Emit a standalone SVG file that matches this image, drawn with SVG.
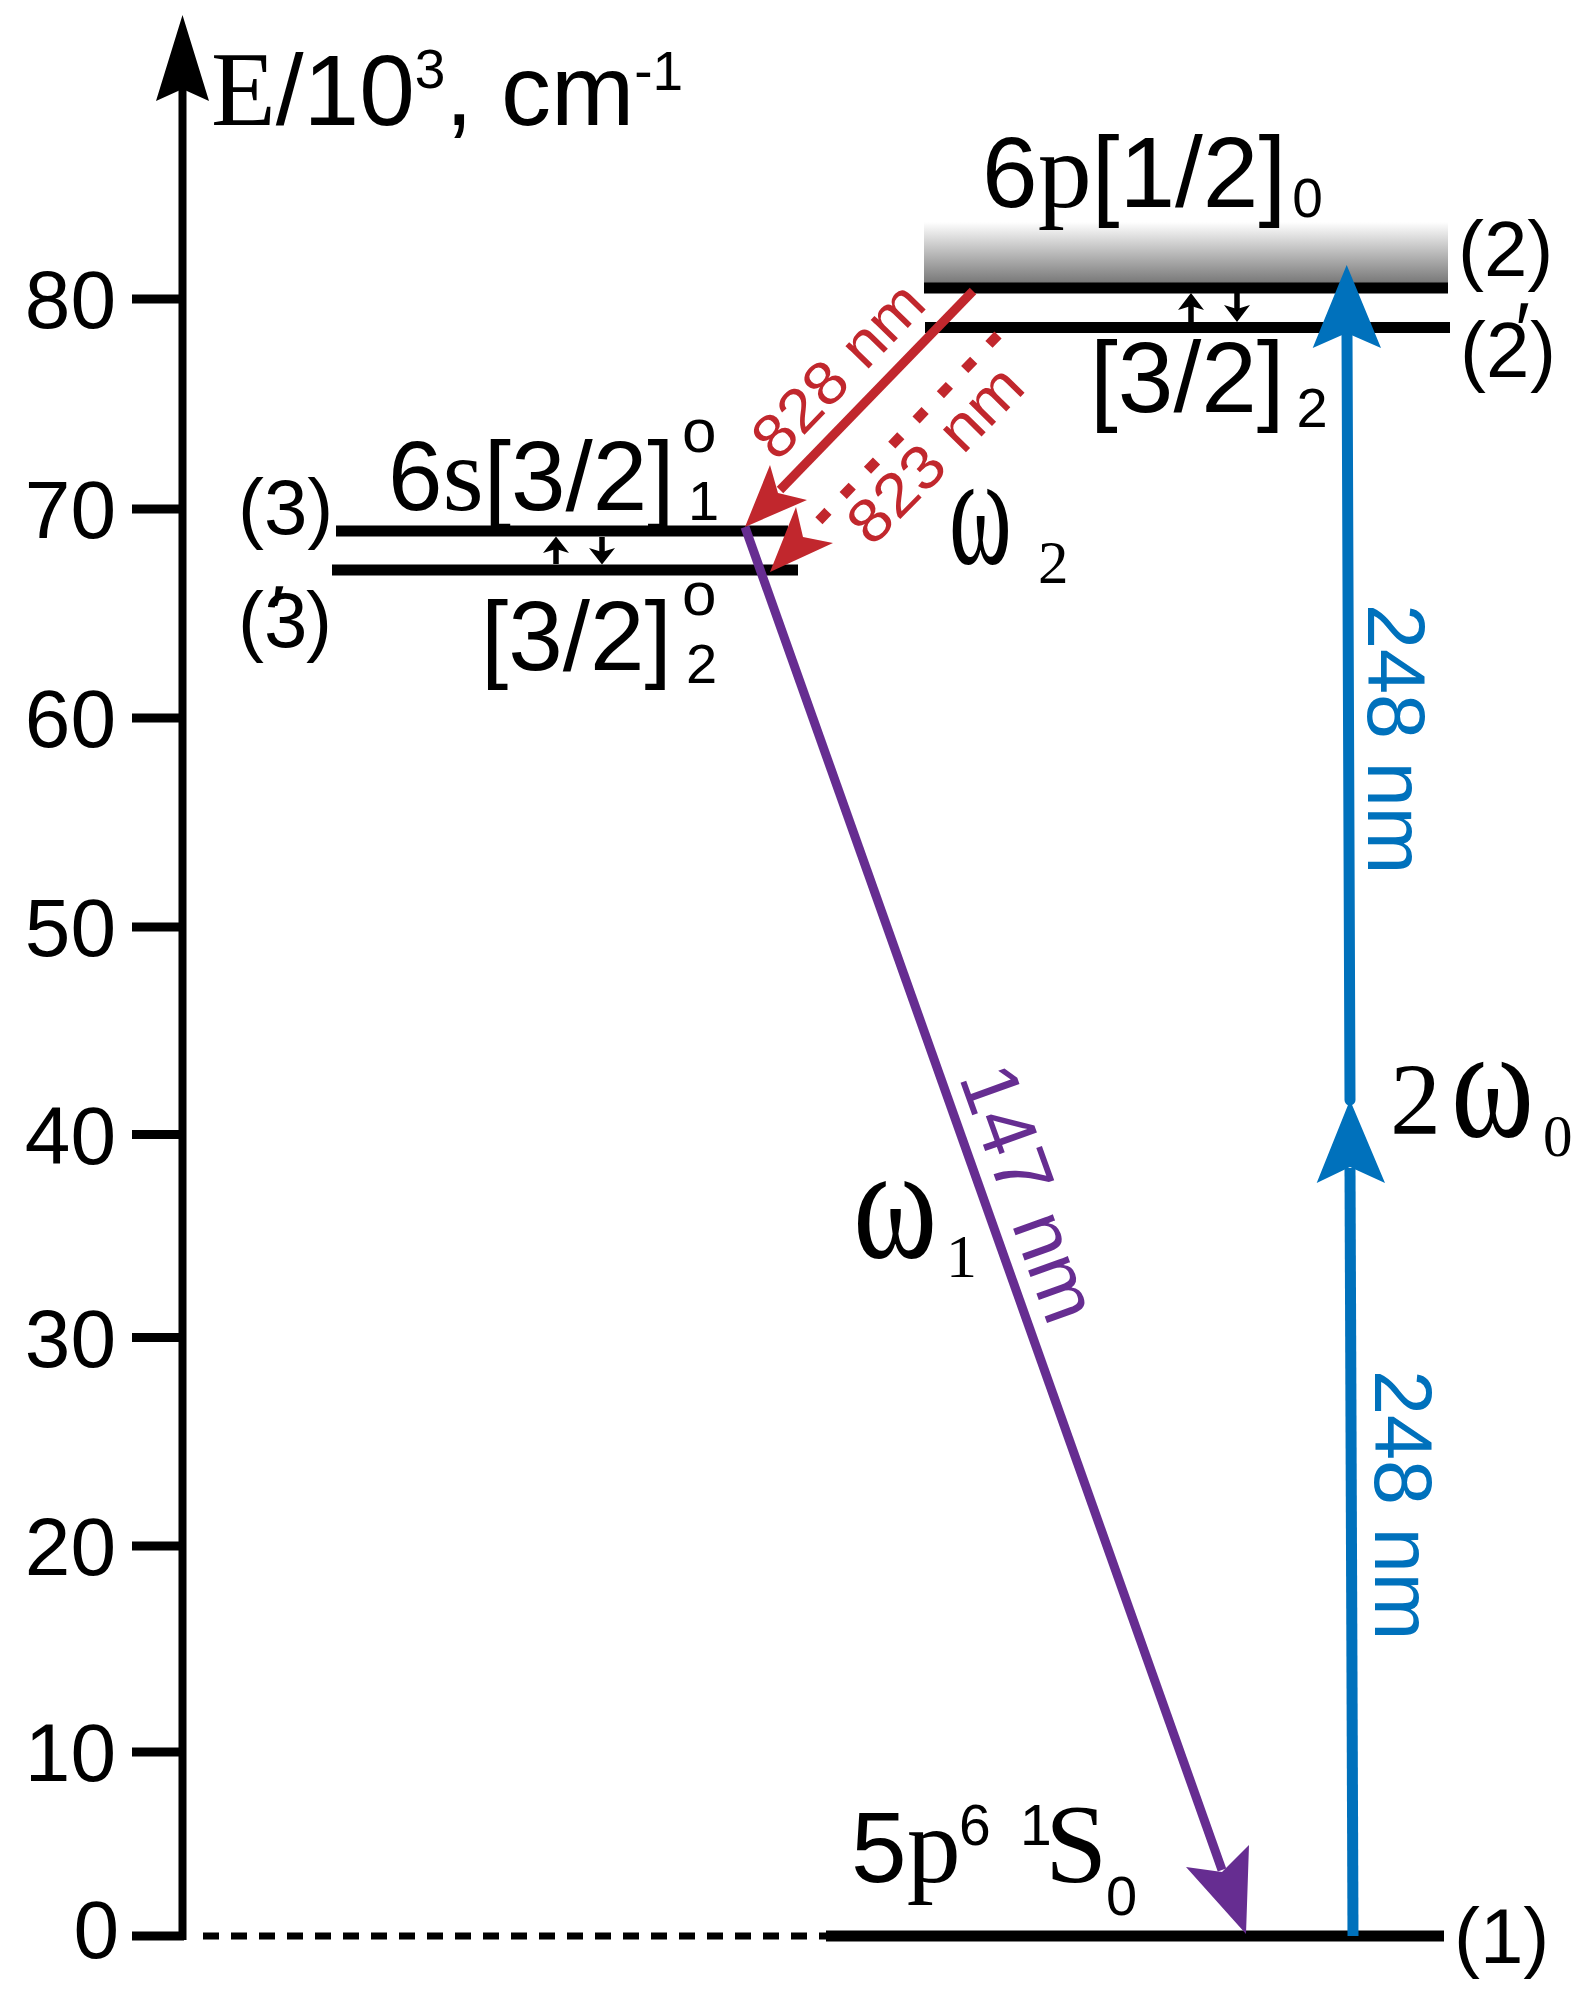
<svg xmlns="http://www.w3.org/2000/svg" width="1588" height="1991" viewBox="0 0 1588 1991">
<defs>
<style>
.sans{font-family:"Liberation Sans",Arial,sans-serif;fill:#000}
.serif{font-family:"Liberation Serif","Times New Roman",serif;fill:#000}
.lvl{stroke:#000;stroke-width:11;fill:none}
.tick{stroke:#000;stroke-width:9}
.small{stroke:#000;stroke-width:5.5;fill:none}
.red{fill:#c1272d}
.blue{fill:#0071bc}
.purple{fill:#662d91}
</style>
<linearGradient id="band" x1="0" y1="0" x2="0" y2="1">
<stop offset="0" stop-color="#ffffff"/>
<stop offset="1" stop-color="#787878"/>
</linearGradient>
</defs>
<rect width="1588" height="1991" fill="#fff"/>

<g id="axis">
<line x1="182.5" y1="1940" x2="182.5" y2="88" stroke="#000" stroke-width="8"/>
<polygon points="182.5,15 209,101 182.5,89 156,101" fill="#000"/>
<text class="sans" x="211" y="125" font-size="100"><tspan class="serif" font-size="106">E</tspan>/10<tspan font-size="55" dy="-37">3</tspan><tspan dy="37">, cm</tspan><tspan font-size="55" dy="-35">-1</tspan></text>
<g class="tick">
<line x1="132" y1="299" x2="184" y2="299"/>
<line x1="132" y1="509" x2="184" y2="509"/>
<line x1="132" y1="718" x2="184" y2="718"/>
<line x1="132" y1="927" x2="184" y2="927"/>
<line x1="132" y1="1134.5" x2="184" y2="1134.5"/>
<line x1="132" y1="1337.5" x2="184" y2="1337.5"/>
<line x1="132" y1="1546" x2="184" y2="1546"/>
<line x1="132" y1="1752" x2="184" y2="1752"/>
<line x1="132" y1="1936" x2="184" y2="1936"/>
</g>
<g class="sans" font-size="82" text-anchor="end">
<text x="116" y="328">80</text>
<text x="116" y="538">70</text>
<text x="116" y="747">60</text>
<text x="116" y="956">50</text>
<text x="116" y="1164">40</text>
<text x="116" y="1367">30</text>
<text x="116" y="1575">20</text>
<text x="116" y="1781">10</text>
<text x="119" y="1958">0</text>
</g>
<line x1="203" y1="1936" x2="826" y2="1936" stroke="#000" stroke-width="7" stroke-dasharray="16 12"/>
</g>

<g id="level-1">
<line class="lvl" x1="826" y1="1936" x2="1444" y2="1936" stroke-width="12"/>
<text class="sans" x="1454" y="1963" font-size="78">(1)</text>
<text class="sans" x="851" y="1882" font-size="100">5<tspan class="serif" font-size="108">p</tspan><tspan x="959" y="1845" font-size="57">6</tspan><tspan x="1020" y="1845" font-size="57">1</tspan><tspan class="serif" x="1045" y="1882" font-size="112">S</tspan><tspan x="1106" y="1915" font-size="56">0</tspan></text>
</g>

<g id="level-2">
<rect x="924" y="222" width="524" height="61" fill="url(#band)"/>
<line class="lvl" x1="924" y1="288" x2="1448" y2="288"/>
<text class="sans" x="982" y="207" font-size="100">6<tspan class="serif" font-size="108">p</tspan>[1/2]<tspan font-size="55" dy="10" dx="6">0</tspan></text>
<text class="sans" x="1458" y="276" font-size="78">(2)</text>
</g>

<g id="level-2p">
<line class="lvl" x1="925" y1="327.5" x2="1450" y2="327.5"/>
<text class="sans" x="1090" y="412" font-size="100">[3/2]<tspan font-size="56" dy="15" dx="12">2</tspan></text>
<text class="sans" x="1460" y="377" font-size="78">(2<tspan dx="-14" dy="-20">′</tspan><tspan dy="20">)</tspan></text>
<line class="small" x1="1191" y1="322" x2="1191" y2="305"/>
<polygon points="1191,293 1204,310 1191,306 1178,310" fill="#000"/>
<line class="small" x1="1237" y1="293" x2="1237" y2="310"/>
<polygon points="1237,322 1250,305 1237,309 1224,305" fill="#000"/>
</g>

<g id="level-3">
<line class="lvl" x1="336" y1="531" x2="788" y2="531"/>
<text class="sans" x="238" y="534" font-size="78">(3)</text>
<text class="sans" x="388" y="510" font-size="98">6<tspan class="serif" font-size="106">s</tspan>[3/2]<tspan x="682" y="452" font-size="62">o</tspan><tspan x="688" y="520" font-size="56">1</tspan></text>
</g>

<g id="level-3p">
<line class="lvl" x1="332" y1="570" x2="798" y2="570"/>
<text class="sans" x="238" y="647" font-size="78">(3<tspan dx="-37" dy="-7">′</tspan><tspan dx="21" dy="7">)</tspan></text>
<text class="sans" x="481" y="670" font-size="98">[3/2]<tspan x="682" y="615" font-size="62">o</tspan><tspan x="686" y="683" font-size="56">2</tspan></text>
<line class="small" x1="556" y1="564" x2="556" y2="548"/>
<polygon points="556,536.5 569,553 556,549 543,553" fill="#000"/>
<line class="small" x1="602" y1="537" x2="602" y2="553"/>
<polygon points="602,564.5 615,548 602,552 589,548" fill="#000"/>
</g>

<g id="connectors">
<g id="arrow-828">
<line x1="973" y1="291" x2="780" y2="490" stroke="#c1272d" stroke-width="9"/>
<polygon class="red" points="745,527 770,465 778,493 807,500"/>
<text class="sans" style="fill:#c1272d" font-size="61" textLength="218" lengthAdjust="spacingAndGlyphs" transform="translate(777,463) rotate(-45.9)">828 nm</text>
</g>
<g id="arrow-823">
<line x1="998" y1="335" x2="808" y2="532" stroke="#c1272d" stroke-width="10" stroke-dasharray="13 22"/>
<polygon class="red" points="770,572 796,507 803,537 833,543"/>
<text class="sans" style="fill:#c1272d" font-size="61" textLength="222" lengthAdjust="spacingAndGlyphs" transform="translate(872,548) rotate(-45.5)">823 nm</text>
</g>
<g id="arrow-147">
<line x1="745" y1="527" x2="1222" y2="1870" stroke="#662d91" stroke-width="9"/>
<polygon class="purple" points="1186,1867 1222,1872 1249,1845 1246,1934"/>
<text class="sans" style="fill:#662d91" font-size="80" transform="translate(958.5,1077) rotate(70.2)">147 nm</text>
</g>
<g id="arrow-248-lower">
<line x1="1353" y1="1936" x2="1350" y2="1168" stroke="#0071bc" stroke-width="11"/>
<polygon class="blue" points="1350,1100 1385,1183 1350,1167 1316.7,1183"/>
<text class="sans" style="fill:#0071bc" font-size="81" transform="translate(1375,1370) rotate(90)">248 nm</text>
</g>
<g id="arrow-248-upper">
<line x1="1350" y1="1100" x2="1347" y2="334" stroke="#0071bc" stroke-width="11" stroke-linecap="round"/>
<polygon class="blue" points="1346.7,265 1381,348 1346.7,333 1312.7,348"/>
<text class="sans" style="fill:#0071bc" font-size="81" transform="translate(1368,604) rotate(90)">248 nm</text>
</g>
</g>

<g id="photon-labels">
<g id="omega2">
<text class="serif" font-size="112" transform="translate(949,563) scale(0.85,1.42)">ω</text>
<text class="serif" x="1038" y="583" font-size="61">2</text>
</g>
<g id="omega1">
<text class="serif" font-size="122" transform="translate(853,1257) scale(1.05,1.34)">ω</text>
<text class="serif" x="946" y="1277" font-size="62">1</text>
</g>
<g id="two-omega0">
<text class="serif" x="1390" y="1134" font-size="102">2</text>
<text class="serif" font-size="120" transform="translate(1451,1136) scale(1.05,1.32)">ω</text>
<text class="serif" x="1543" y="1156" font-size="59">0</text>
</g>
</g>
</svg>
